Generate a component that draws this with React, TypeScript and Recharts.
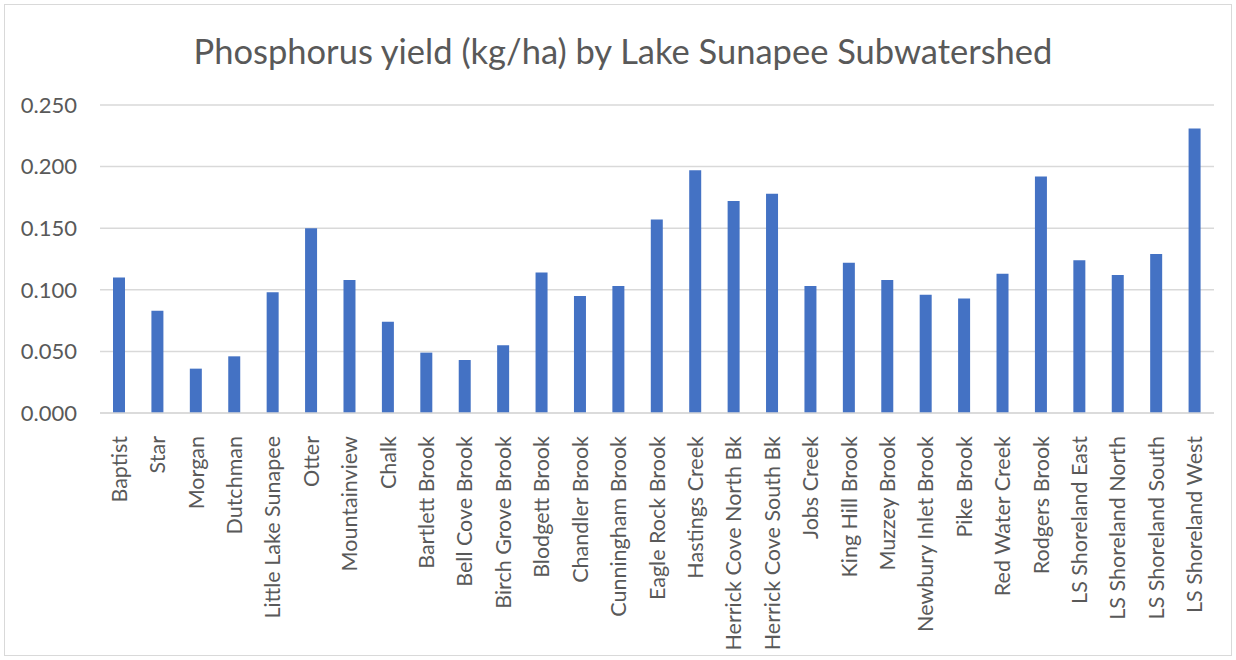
import React from 'react';
import { BarChart, Bar, XAxis, YAxis, CartesianGrid } from 'recharts';

const subwatersheds = [
  'Baptist', 'Star', 'Morgan', 'Dutchman', 'Little Lake Sunapee', 'Otter', 'Mountainview', 'Chalk',
  'Bartlett Brook', 'Bell Cove Brook', 'Birch Grove Brook', 'Blodgett Brook', 'Chandler Brook',
  'Cunningham Brook', 'Eagle Rock Brook', 'Hastings Creek', 'Herrick Cove North Bk', 'Herrick Cove South Bk',
  'Jobs Creek', 'King Hill Brook', 'Muzzey Brook', 'Newbury Inlet Brook', 'Pike Brook', 'Red Water Creek',
  'Rodgers Brook', 'LS Shoreland East', 'LS Shoreland North', 'LS Shoreland South', 'LS Shoreland West',
];

const yields = [
  0.110, 0.083, 0.036, 0.046, 0.098, 0.150, 0.108, 0.074,
  0.049, 0.043, 0.055, 0.114, 0.095,
  0.103, 0.157, 0.197, 0.172, 0.178,
  0.103, 0.122, 0.108, 0.096, 0.093, 0.113,
  0.192, 0.124, 0.112, 0.129, 0.231,
];

const yTicks = [0, 0.05, 0.1, 0.15, 0.2, 0.25];

const data = subwatersheds.map((name, i) => ({ name, value: yields[i] }));

const FONT = 'Lato, sans-serif';
const GREY = '#595959';

const RotatedTick = (props: any) => {
  const { x, y, payload } = props;
  return (
    <text
      x={0}
      y={0}
      dy="0.35em"
      textAnchor="end"
      fill={GREY}
      fontSize={21.5}
      fontFamily={FONT}
      transform={`translate(${x},${y + 15}) rotate(-90)`}
    >
      {payload.value}
    </text>
  );
};

export default function App() {
  return (
    <div style={{ position: 'absolute', left: 0, top: 0, width: 1236, height: 660, background: '#fff' }}>
      <div
        style={{
          position: 'absolute',
          left: 4,
          top: 4,
          width: 1228,
          height: 652,
          border: '1px solid #d9d9d9',
          boxSizing: 'border-box',
        }}
      />
      <div
        style={{
          position: 'absolute',
          left: 5,
          top: 30,
          width: 1236,
          textAlign: 'center',
          fontFamily: FONT,
          fontSize: 34.5,
          color: GREY,
        }}
      >
        Phosphorus yield (kg/ha) by Lake Sunapee Subwatershed
      </div>
      <BarChart
        width={1236}
        height={660}
        data={data}
        margin={{ top: 105, right: 22, bottom: 0, left: 0 }}
        style={{ position: 'absolute', left: 0, top: 0 }}
      >
        <CartesianGrid vertical={false} stroke="#d9d9d9" strokeWidth={1.5} />
        <XAxis
          dataKey="name"
          interval={0}
          tickLine={false}
          axisLine={{ stroke: '#d9d9d9', strokeWidth: 1.5 }}
          tick={<RotatedTick />}
          height={247}
        />
        <YAxis
          domain={[0, 0.25]}
          ticks={yTicks}
          width={100}
          tickLine={false}
          axisLine={false}
          tickMargin={17}
          tickFormatter={(v: number) => v.toFixed(3)}
          tick={{ fill: GREY, fontSize: 22, fontFamily: FONT }}
        />
        <Bar dataKey="value" fill="#4472c4" barSize={12} isAnimationActive={false} />
      </BarChart>
    </div>
  );
}
